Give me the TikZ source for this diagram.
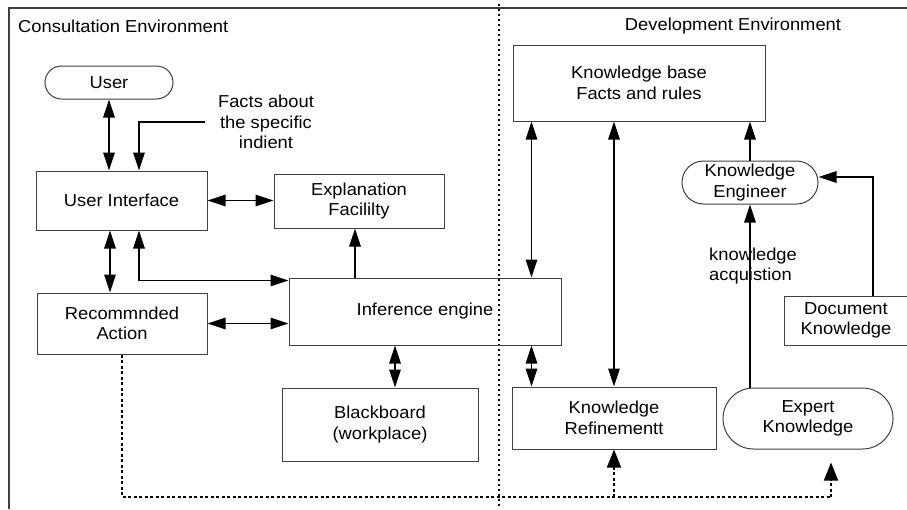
\documentclass[tikz,border=0pt]{standalone}
\usepackage{fontspec}
\setmainfont[FakeStretch=1.06]{Liberation Sans}
\usetikzlibrary{arrows.meta}
\definecolor{boxgray}{HTML}{404040}
\newcommand\mainfs{\fontsize{17.3}{20.5}\selectfont}
\begin{document}
\begin{tikzpicture}[x=1pt,y=-1pt,
  box/.style={draw=boxgray, line width=1pt, inner sep=0pt, align=center, font=\mainfs},
  pill/.style={box, rounded corners=#1},
  lbl/.style={inner sep=0pt, font=\mainfs},
  arr/.style={line width=1.6pt, -{Triangle[length=18pt,width=11.5pt]}},
  dbl/.style={line width=1.6pt, {Triangle[length=18pt,width=11.5pt]}-{Triangle[length=18pt,width=11.5pt]}},
  dotline/.style={line width=1.8pt, dash pattern=on 3pt off 2.5pt},
  dotarr/.style={dotline, -{Triangle[length=18pt,width=14pt]}},
  divider/.style={line width=1.8pt, dash pattern=on 2pt off 3pt},
  frame/.style={line width=1.1pt, draw=boxgray}
]
\useasboundingbox (0,0) rectangle (907,509);
\clip (0,0) rectangle (907,509);
\fill[white] (0,0) rectangle (907,509);

% frame and divider
\draw[frame] (9,509) -- (9,8) -- (907,8);
\draw[divider] (499,4) -- (499,509);

% titles
\node[lbl, anchor=west] (ctitle) at (18,26) {Consultation Environment};
\node[lbl] (dtitle) at (733,26) {Development Environment};

% nodes
\node[pill=16.5pt, minimum width=128pt, minimum height=33pt] (user) at (109,82.5) {User};
\node[box, minimum width=171pt, minimum height=59pt] (ui) at (121.5,200.5) {User Interface};
\node[box, minimum width=170pt, minimum height=54pt] (ef) at (359,201) {Explanation\\Facililty};
\node[box, minimum width=170pt, minimum height=61pt] (ra) at (122,323.5) {Recommnded\\Action};
\node[box, minimum width=272pt, minimum height=67pt] (ie) at (425,311.5) {Inference engine};
\node[box, minimum width=196pt, minimum height=73pt] (bb) at (380,424.5) {Blackboard\\(workplace)};
\node[box, minimum width=252pt, minimum height=76pt] (kb) at (639,83) {Knowledge base\\Facts and rules};
\node[pill=21.5pt, minimum width=136pt, minimum height=43pt] (ke) at (750,182.5) {Knowledge\\Engineer};
\node[box, minimum width=130pt, minimum height=49pt, text width=124pt] (dk) at (849,320.5) {\hspace*{-6pt}Document\\\hspace*{-6pt}Knowledge};
\node[pill=30.5pt, minimum width=170pt, minimum height=61pt] (ek) at (808,418.5) {Expert\\Knowledge};
\node[box, minimum width=204pt, minimum height=62pt] (kr) at (614,418) {Knowledge\\Refinementt};

% labels
\node[lbl, align=center] (facts) at (266,122) {Facts about\\the specific\\indient};
\node[lbl, align=left, anchor=west] (kacq) at (709,266) {knowledge\\acquistion};

% consultation connectors
\draw[dbl] (user.south) -- (user.south |- ui.north);
\coordinate (factsend) at (205,122);
\draw[arr] (factsend) -| ([xshift=17.5pt]ui.north);
\draw[dbl] (ui.east) -- (ui.east -| ef.west);
\draw[dbl] ([xshift=-11.5pt]ui.south) -- ([xshift=-11.5pt]ui.south |- ra.north);
\draw[dbl] ([xshift=17.5pt]ui.south) |- ([yshift=-3pt]ie.north west);
\draw[arr] ([xshift=-4pt]ef.south |- ie.north) -- ([xshift=-4pt]ef.south);
\draw[dbl] (ra.east) -- (ra.east -| ie.west);
\draw[dbl] ([xshift=15pt]bb.north |- ie.south) -- ([xshift=15pt]bb.north);

% development connectors
\draw[dbl] ([xshift=19pt]kb.south west) -- ([xshift=19pt]kb.south west |- ie.north);
\draw[dbl] (kr.north |- kb.south) -- (kr.north);
\draw[dbl] ([xshift=20pt]kr.north west |- ie.south) -- ([xshift=20pt]kr.north west);
\draw[arr] (ke.north) -- (ke.north |- kb.south);
\draw[arr] ([xshift=24pt]dk.north) |- ([yshift=5.5pt]ke.east);
\draw[arr] (ke.south |- ek.north) -- (ke.south);

% dotted feedback
\coordinate (dend) at (831,497);
\draw[dotline] (ra.south) |- (dend);
\draw[dotarr] (kr.south |- dend) -- (kr.south);
\draw[dotarr] (dend) -- ([xshift=23pt,yshift=-13pt]ek.south);
\end{tikzpicture}
\end{document}
